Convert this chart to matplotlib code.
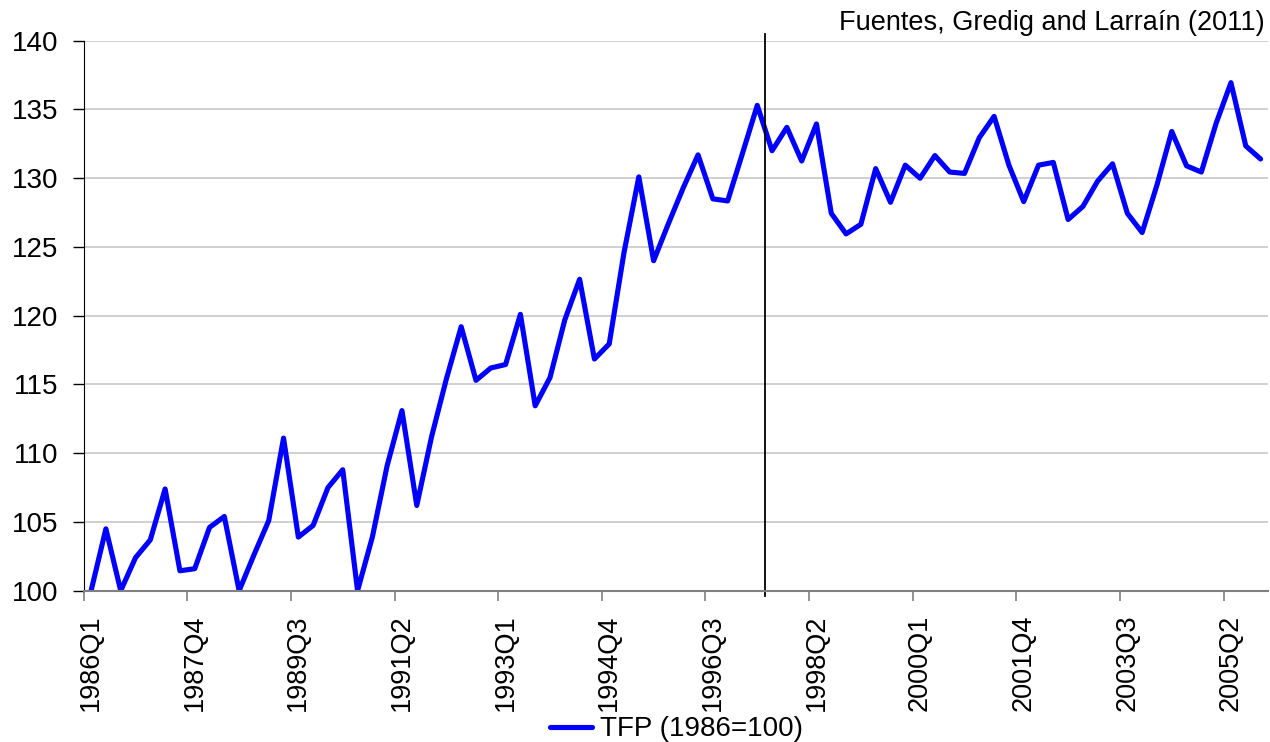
import matplotlib.pyplot as plt
from matplotlib.ticker import FixedLocator, NullFormatter

# ------------------------------
# Data: TFP index, quarterly 1986Q1 - 2005Q4
# ------------------------------
years = list(range(1986, 2006))
quarters = [f"{y}Q{q}" for y in years for q in range(1, 5)]

tfp = [100.0, 104.5, 100.0, 102.4, 103.7, 107.4, 101.45, 101.6,
       104.6, 105.4, 100.0, 102.6, 105.1, 111.1, 103.9, 104.75,
       107.5, 108.8, 100.0, 103.9, 109.1, 113.1, 106.2, 111.2,
       115.4, 119.2, 115.3, 116.2, 116.45, 120.1, 113.45, 115.5,
       119.7, 122.65, 116.85, 117.95, 124.6, 130.1, 124.0, 126.7,
       129.3, 131.7, 128.5, 128.35, 131.8, 135.3, 132.0, 133.7,
       131.25, 133.95, 127.45, 125.95, 126.65, 130.7, 128.25, 130.95,
       130.0, 131.65, 130.45, 130.35, 132.95, 134.5, 130.95, 128.3,
       130.95, 131.15, 127.0, 127.95, 129.8, 131.05, 127.45, 126.05,
       129.5, 133.4, 130.9, 130.45, 134.0, 136.95, 132.35, 131.4]

break_quarter = "1997Q2"   # vertical line drawn after this quarter
label_step = 7
series_label = "TFP (1986=100)"
source_note = "Fuentes, Gredig and Larraín (2011)"

# ------------------------------
# Plot
# ------------------------------
fig = plt.figure(figsize=(12.7, 7.42), dpi=100)
ax = fig.add_axes([0.0659, 0.2039, 0.9325, 0.7412])

x = list(range(len(quarters)))
ax.plot(x, tfp, color='#0000ff', lw=3.7, label=series_label,
        solid_joinstyle='round', solid_capstyle='round')

ax.set_xlim(-0.5, len(quarters) - 0.5)
ax.set_ylim(100, 140)
ax.set_yticks(range(100, 141, 5))
ax.grid(axis='y', color='#c8c8c8', lw=1.2)
ax.set_axisbelow(True)

# category axis: ticks on boundaries, labels on categories
bounds = [i - 0.5 for i in range(0, len(quarters), label_step)]
ax.xaxis.set_major_locator(FixedLocator(bounds))
ax.xaxis.set_major_formatter(NullFormatter())
ax.set_xticks(x[::label_step], minor=True)
ax.set_xticklabels(quarters[::label_step], minor=True, rotation=90,
                   fontsize=19.5, family='Liberation Sans')
ax.tick_params(axis='x', which='major', length=7, width=1.2, color='#808080')
ax.tick_params(axis='x', which='minor', length=0, pad=17)
ax.tick_params(axis='y', length=8, width=1, labelsize=20, pad=10)
for lbl in ax.get_yticklabels():
    lbl.set_family('Liberation Sans')

for side in ['top', 'right']:
    ax.spines[side].set_visible(False)
ax.spines['left'].set_color('black')
ax.spines['bottom'].set_color('#808080')
ax.spines['bottom'].set_linewidth(1.5)

# structural break marker
bx = quarters.index(break_quarter) + 0.5
ax.axvline(bx, ymin=-0.01, ymax=1.012, color='black', lw=1.3, clip_on=False)

fig.text(0.996, 0.952, source_note, ha='right', va='bottom', fontsize=19.5,
         family=['Liberation Sans Narrow', 'Liberation Sans'])

fig.legend(loc='center', bbox_to_anchor=(0.533, 0.017), frameon=False,
           prop={'family': 'Liberation Sans', 'size': 20},
           handlelength=1.5, handletextpad=0.3)

plt.savefig('out.png', dpi=100)
